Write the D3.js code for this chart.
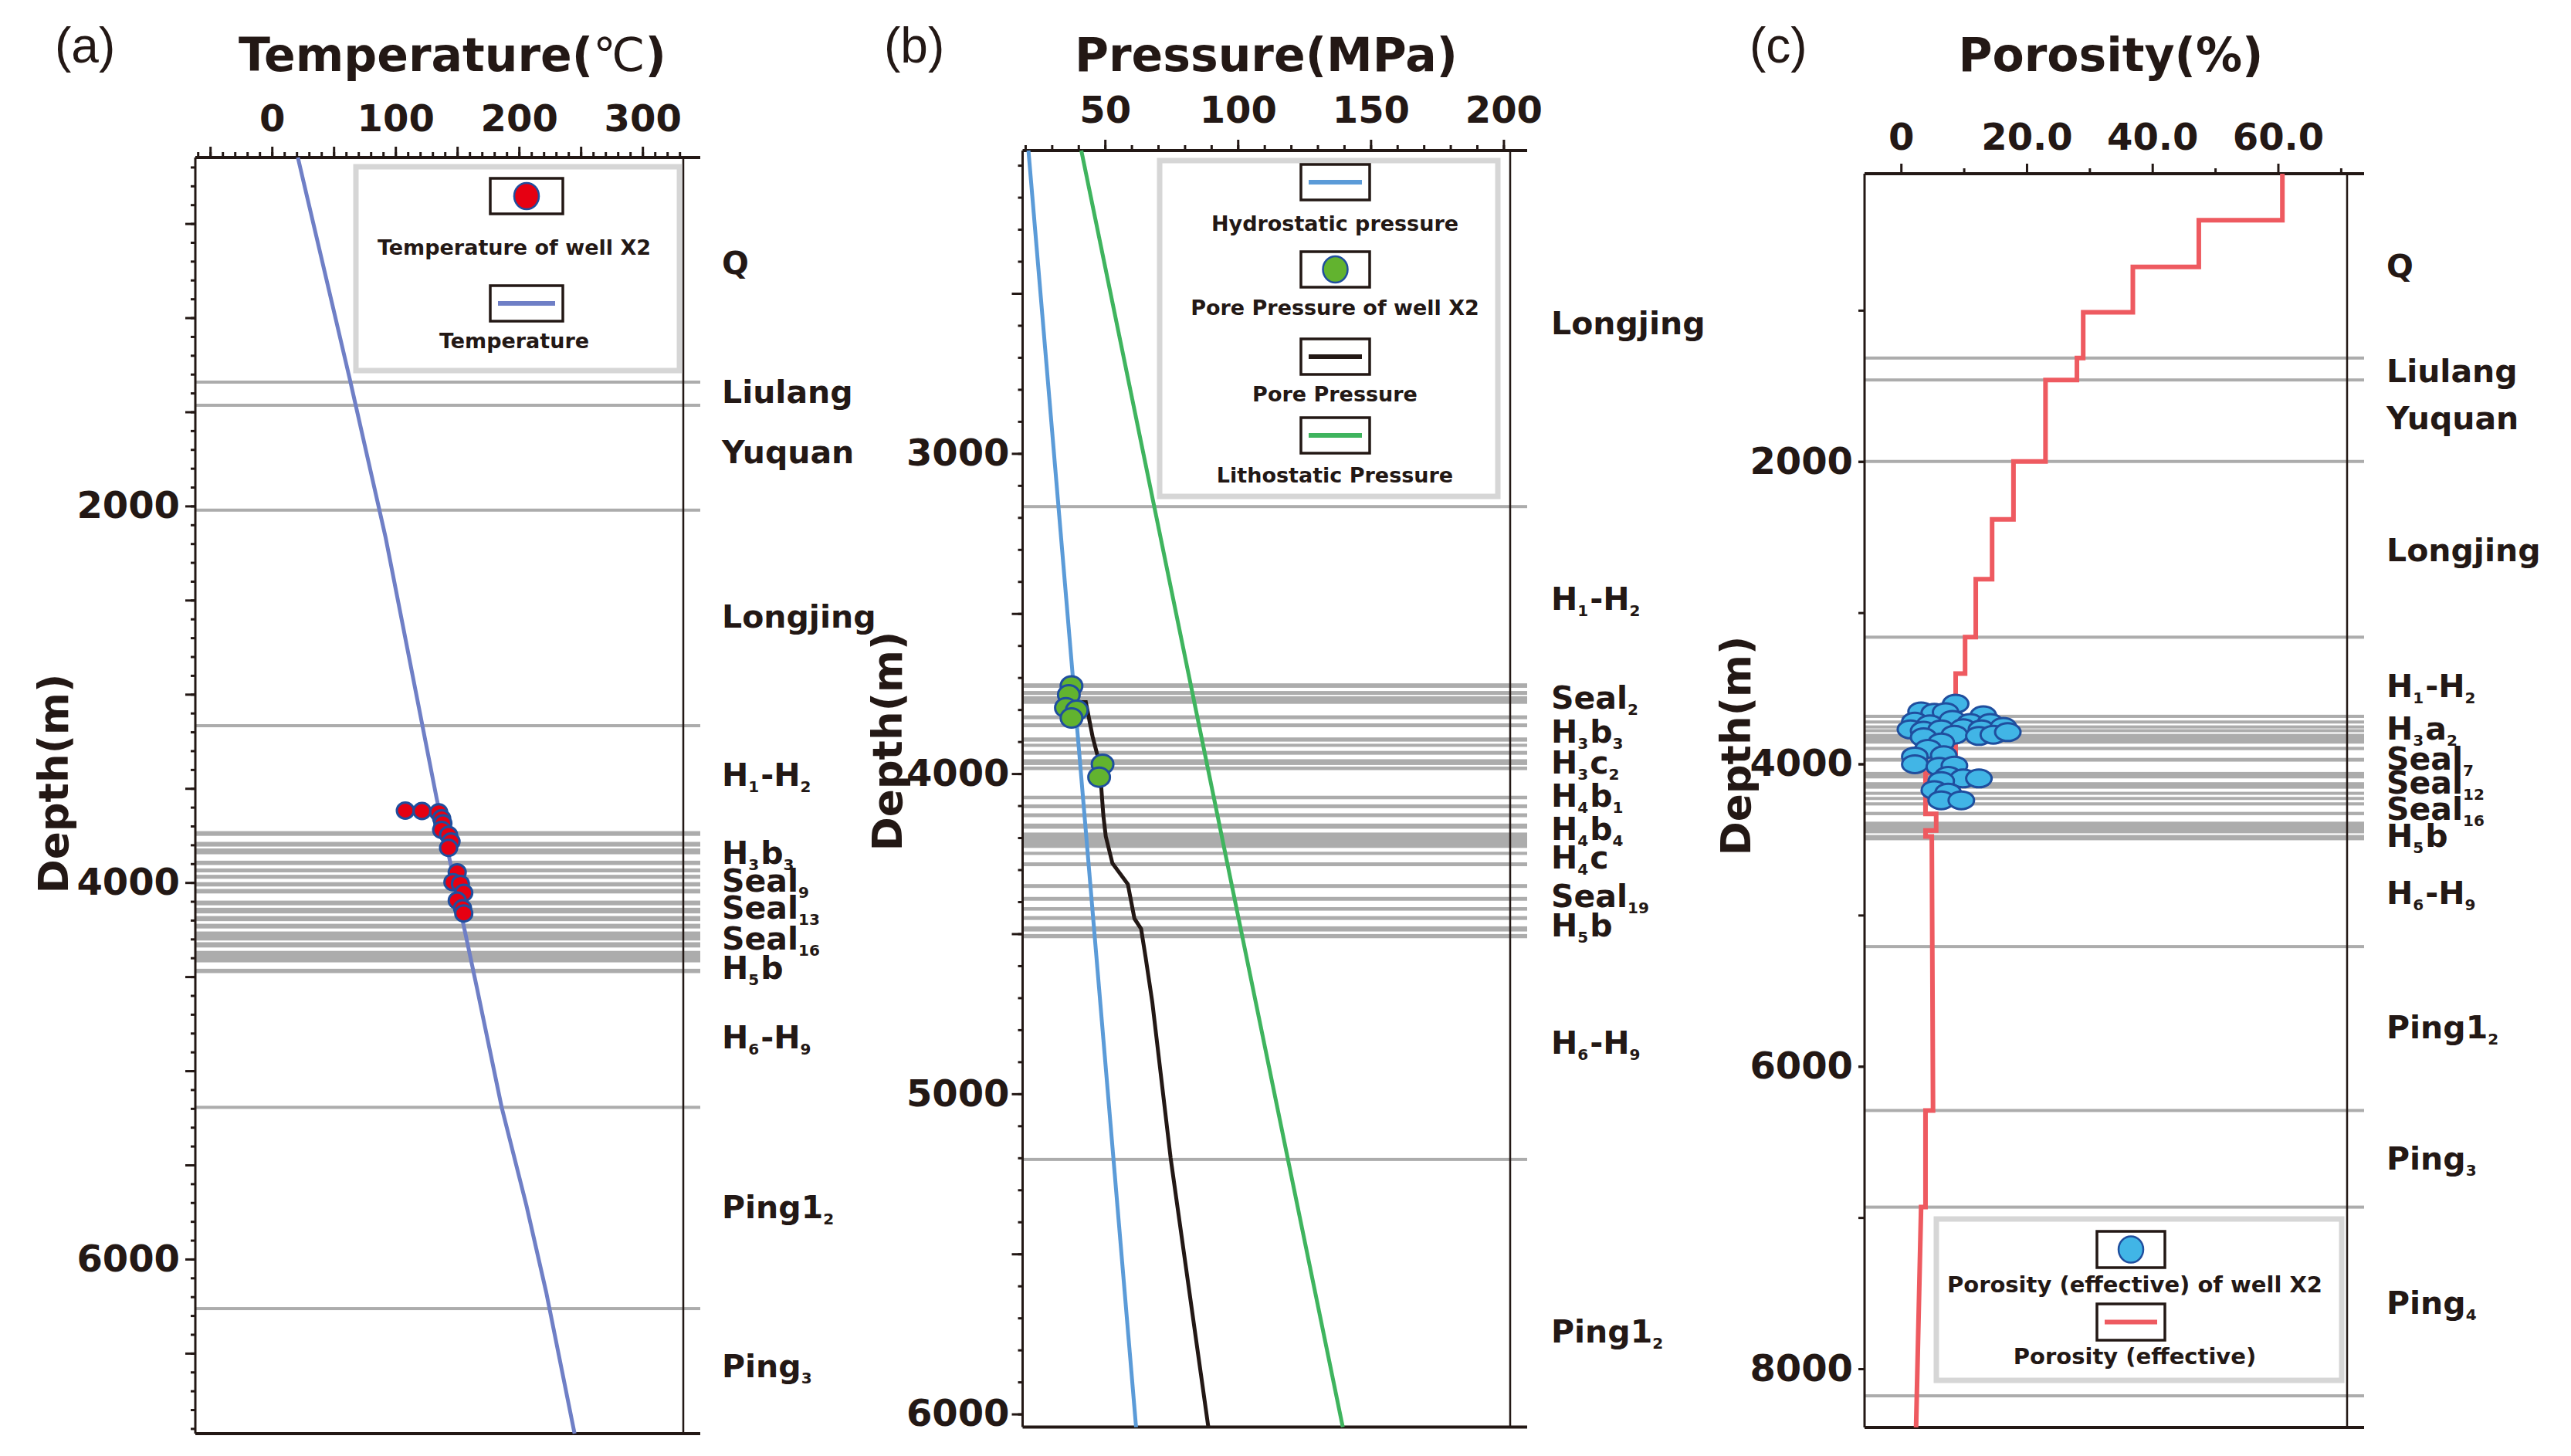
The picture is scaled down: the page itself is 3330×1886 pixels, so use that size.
<!DOCTYPE html>
<html>
<head>
<meta charset="utf-8">
<script src="https://cdn.jsdelivr.net/npm/d3@7"></script>
<style>
  body { margin: 0; background: #fff; }
  svg { display: block; font-family: 'DejaVu Sans', sans-serif; font-weight: bold; }
</style>
</head>
<body>
<svg id="chart" width="3330" height="1886"></svg>
<script>
// ---- (a) temperature, [°C, depth m] ----
const tempTickLabels = [0, 100, 200, 300]
const tempProfile = [[21, 149], [63, 1325], [92, 2166], [133.5, 3558], [166, 4561], [186, 5194], [206, 5715], [222, 6175], [245, 6927]]
const tempWellX2 = [[108, 3618], [121.5, 3620], [135, 3627], [137.4, 3659], [138.4, 3686], [137.4, 3720], [143, 3747], [145, 3782],
  [143, 3816], [150, 3946], [146.5, 3998], [152.6, 4007], [155.3, 4055], [150, 4096], [154.3, 4137], [155.3, 4164]]
const tempLines = [1342, 1465, 2022, 3167, 5194, 6263]
const tempBands = [[3727, 3752], [3784, 3809], [3819, 3850], [3884, 3907], [3925, 3946], [3959, 3980], [3998, 4021], [4034, 4058],
  [4096, 4121], [4134, 4164], [4178, 4205], [4219, 4244], [4260, 4308], [4317, 4345], [4363, 4424], [4458, 4481]]
const tempFormations = [['Q', 768], ['Liulang', 1453], ['Yuquan', 1772], ['Longjing', 2646], ['H{1}-H{2}', 3486], ['H{3}b{3}', 3900],
  ['Seal{9}', 4048], ['Seal{13}', 4192], ['Seal{16}', 4356], ['H{5}b', 4511], ['H{6}-H{9}', 4880], ['Ping1{2}', 5782], ['Ping{3}', 6627]]

// ---- (b) pressure, [MPa, depth m] ----
const presTickLabels = [50, 100, 150, 200]
const hydrostatic = [[21.2, 2054], [61.7, 6041]]
const lithostatic = [[41.1, 2054], [139.5, 6041]]
const porePressure = [[40.3, 3777], [42.8, 3777], [45.3, 3883], [47.8, 3963], [48.6, 4043], [49.4, 4132], [50.3, 4196], [52.8, 4280],
  [58.6, 4345], [61.1, 4453], [63.6, 4485], [65.3, 4574], [67.8, 4713], [74.7, 5200], [88.9, 6041]]
const poreWellX2 = [[37.4, 3726], [36.4, 3754], [35.3, 3794], [39.4, 3802], [37.4, 3826], [49.1, 3971], [47.8, 4011]]
const presLines = [3166, 5205]
const presBands = [[3718, 3732], [3742, 3754], [3758, 3782], [3818, 3830], [3843, 3855], [3887, 3900], [3907, 3916], [3929, 3941],
  [3955, 3973], [3978, 3989], [4069, 4080], [4096, 4108], [4124, 4136], [4156, 4172], [4184, 4232], [4244, 4254], [4277, 4289],
  [4345, 4357], [4385, 4397], [4417, 4428], [4445, 4457], [4477, 4493], [4501, 4514]]
const presFormations = [['Longjing', 2628], ['H{1}-H{2}', 3489], ['Seal{2}', 3797], ['H{3}b{3}', 3904], ['H{3}c{2}', 4000],
  ['H{4}b{1}', 4104], ['H{4}b{4}', 4207], ['H{4}c', 4296], ['Seal{19}', 4417], ['H{5}b', 4509], ['H{6}-H{9}', 4875], ['Ping1{2}', 5777]]

// ---- (c) porosity, [%, depth m] ----
const poroTickLabels = [0, 20, 40, 60]
const porosityProfile = [[60.7, 97], [60.7, 405], [47.4, 405], [47.4, 713], [36.9, 713], [36.9, 1014], [29.0, 1014], [29.0, 1316],
  [28.0, 1316], [28.0, 1461], [23.0, 1461], [23.0, 2000], [17.9, 2000], [17.9, 2383], [14.5, 2383], [14.5, 2778], [11.9, 2778],
  [11.9, 3162], [10.2, 3162], [10.2, 3403], [8.7, 3403], [8.7, 4060], [3.9, 4060], [3.9, 4330], [5.6, 4330], [5.6, 4440],
  [3.9, 4440], [3.9, 4480], [4.9, 4480], [5.1, 6292], [3.9, 6292], [3.9, 6931], [3.2, 6931], [2.4, 8388]]
const poroWellX2 = [[8.7, 3602], [3.2, 3653], [5.3, 3662], [7.1, 3658], [13.1, 3679], [2.2, 3721], [4.6, 3738], [8.2, 3709],
  [11.0, 3730], [14.2, 3730], [1.5, 3772], [3.6, 3781], [6.4, 3772], [9.9, 3764], [12.8, 3772], [16.3, 3755], [3.6, 3824],
  [8.5, 3807], [12.4, 3815], [14.7, 3807], [17.0, 3790], [6.4, 3858], [4.3, 3900], [2.2, 3951], [6.8, 3943], [2.2, 4002],
  [6.1, 4019], [8.5, 4011], [7.5, 4079], [9.9, 4096], [12.4, 4096], [6.4, 4113], [5.3, 4173], [7.5, 4190], [6.4, 4241], [9.6, 4241]]
const poroLines = [1316, 1461, 2000, 3162, 5208, 6292, 6931, 8179]
const poroBands = [[3675, 3696], [3713, 3733], [3747, 3764], [3772, 3789], [3801, 3866], [3887, 3909], [3960, 3985], [4053, 4096],
  [4121, 4164], [4186, 4203], [4220, 4237], [4254, 4275], [4317, 4339], [4382, 4459], [4470, 4505]]
const poroFormations = [['Q', 779], ['Liulang', 1476], ['Yuquan', 1785], ['Longjing', 2659], ['H{1}-H{2}', 3558], ['H{3}a{2}', 3839],
  ['Seal{7}', 4038], ['Seal{12}', 4196], ['Seal{16}', 4370], ['H{5}b', 4549], ['H{6}-H{9}', 4927], ['Ping1{2}', 5816],
  ['Ping{3}', 6684], ['Ping{4}', 7639]]

const ink = '#231815'
const gray = '#acacac'
const dotStroke = '#1f4e9e'
const svg = d3.select('#chart')

svg.append('rect').attr('width', 3330).attr('height', 1886).attr('fill', '#fff')

// "H{3}b{3}" -> tspans with subscripts
function addRich (text, str, subSize, subDy) {
  str.split(/(\{[^}]*\})/).filter(s => s.length).forEach(s => {
    if (s[0] === '{') {
      text.append('tspan').attr('font-size', subSize).attr('dy', subDy).text(s.slice(1, -1))
      text.append('tspan').attr('font-size', subSize).attr('dy', -subDy).text('\u200a')
    } else {
      text.append('tspan').text(s)
    }
  })
}

function styleAxis (sel, fontSize) {
  sel.select('.domain').remove()
  sel.selectAll('line').attr('stroke', ink).attr('stroke-width', 3)
  sel.selectAll('text').attr('fill', ink).attr('font-size', fontSize)
    .attr('font-family', "'DejaVu Sans', sans-serif").attr('font-weight', 'bold')
}

function drawPanel (p) {
  const x = d3.scaleLinear().domain(p.xDomain).range([p.left, p.right])
  const y = d3.scaleLinear().domain(p.yDomain).range([p.top, p.bottom])
  const g = svg.append('g')
  const ext = p.right + 22

  // formation boundaries (single lines and stacked bands)
  const bounds = p.lines.map(d => [d, d]).concat(p.bands)
  g.selectAll('rect.bound').data(bounds).join('rect')
    .attr('class', 'bound')
    .attr('x', p.left)
    .attr('width', ext - p.left)
    .attr('y', d => {
      const h = Math.max(4, y(d[1]) - y(d[0]))
      return (y(d[0]) + y(d[1])) / 2 - h / 2
    })
    .attr('height', d => Math.max(4, y(d[1]) - y(d[0])))
    .attr('fill', gray)

  // frame
  g.append('line').attr('x1', p.right).attr('x2', p.right).attr('y1', p.top).attr('y2', p.bottom)
    .attr('stroke', ink).attr('stroke-width', 2.5)
  g.append('line').attr('x1', p.left).attr('x2', p.left).attr('y1', p.top).attr('y2', p.bottom)
    .attr('stroke', ink).attr('stroke-width', 3)
  g.append('line').attr('x1', p.left).attr('x2', ext).attr('y1', p.top).attr('y2', p.top)
    .attr('stroke', ink).attr('stroke-width', 4)
  g.append('line').attr('x1', p.left).attr('x2', ext).attr('y1', p.bottom).attr('y2', p.bottom)
    .attr('stroke', ink).attr('stroke-width', 4)

  // top axis
  g.append('g').attr('transform', `translate(0,${p.top})`)
    .call(d3.axisTop(x).tickValues(p.xMinor).tickSize(7).tickFormat(() => ''))
    .call(s => styleAxis(s, 48))
  g.append('g').attr('transform', `translate(0,${p.top})`)
    .call(d3.axisTop(x).tickValues(p.xMajor).tickSize(p.xMajorSize).tickPadding(p.xPad)
      .tickFormat(d => p.xLabels.includes(d) ? p.xFmt(d) : ''))
    .call(s => styleAxis(s, 48))

  // left axis
  g.append('g').attr('transform', `translate(${p.left},0)`)
    .call(d3.axisLeft(y).tickValues(p.yMinor).tickSize(p.yMinorSize).tickFormat(() => ''))
    .call(s => styleAxis(s, 48))
  g.append('g').attr('transform', `translate(${p.left},0)`)
    .call(d3.axisLeft(y).tickValues(p.yMajor).tickSize(p.yMajorSize).tickPadding(p.yPad)
      .tickFormat(d => p.yLabels.includes(d) ? d : ''))
    .call(s => styleAxis(s, 48))

  // curves
  const line = d3.line().x(d => x(d[0])).y(d => y(d[1]))
  p.curves.forEach(c => {
    g.append('path').datum(c.data).attr('d', line)
      .attr('fill', 'none').attr('stroke', c.color).attr('stroke-width', c.width)
      .attr('stroke-linejoin', 'miter')
  })

  // well X2 measurements
  g.selectAll('ellipse.pt').data(p.dots.data).join('ellipse')
    .attr('class', 'pt')
    .attr('cx', d => x(d[0])).attr('cy', d => y(d[1]))
    .attr('rx', p.dots.rx).attr('ry', p.dots.ry)
    .attr('fill', p.dots.color).attr('stroke', dotStroke).attr('stroke-width', 3)

  // formation names
  p.formations.forEach(f => {
    const t = g.append('text').attr('x', p.labelX).attr('y', y(f[1]))
      .attr('font-size', 41).attr('fill', ink)
    addRich(t, f[0], 20, 8)
  })

  // titles
  const title = g.append('text').attr('x', p.titleX).attr('y', 92).attr('text-anchor', 'middle')
    .attr('font-size', 60).attr('fill', ink)
  title.append('tspan').text(p.title)
  if (p.titleUnit) {
    title.append('tspan').attr('font-weight', 'normal').text(p.titleUnit)
    title.append('tspan').text(')')
  }
  g.append('text').attr('x', p.letterX).attr('y', 81)
    .attr('font-family', "'Liberation Sans', sans-serif").attr('font-weight', 'normal')
    .attr('font-size', 64).attr('fill', ink).text(p.letter)
  g.append('text')
    .attr('transform', `translate(${p.yTitle[0]},${p.yTitle[1]}) rotate(-90)`)
    .attr('text-anchor', 'middle').attr('dominant-baseline', 'central')
    .attr('font-size', 53).attr('fill', ink).text('Depth(m)')

  // legend
  const L = p.legend
  g.append('rect').attr('x', L.x).attr('y', L.y).attr('width', L.w).attr('height', L.h)
    .attr('fill', '#fff').attr('stroke', '#d6d6d6').attr('stroke-width', 7)
  L.items.forEach(it => {
    g.append('rect').attr('x', L.sx).attr('y', it.y).attr('width', L.sw).attr('height', L.sh)
      .attr('fill', '#fff').attr('stroke', ink).attr('stroke-width', 3.5)
    const cx = L.sx + L.sw / 2
    const cy = it.y + L.sh / 2
    if (it.type === 'dot') {
      g.append('ellipse').attr('cx', cx).attr('cy', cy).attr('rx', 16).attr('ry', 17)
        .attr('fill', it.color).attr('stroke', dotStroke).attr('stroke-width', 2.5)
    } else {
      g.append('line').attr('x1', L.sx + 10).attr('x2', L.sx + L.sw - 10).attr('y1', cy).attr('y2', cy)
        .attr('stroke', it.color).attr('stroke-width', 6)
    }
    g.append('text').attr('x', L.tx).attr('y', it.ty).attr('text-anchor', 'middle')
      .attr('font-size', L.fs).attr('fill', ink).text(it.label)
  })
}

const tempColor = '#6f7fc6'
const hydroColor = '#5b9bd8'
const lithoColor = '#3fb45e'
const poroColor = '#ee5a60'

drawPanel({
  left: 253, right: 885, top: 204, bottom: 1857,
  xDomain: [-62, 333], yDomain: [149, 6927],
  xMinor: d3.range(-60, 331, 10), xMajor: d3.range(-50, 301, 50), xMajorSize: 14, xPad: 20,
  xLabels: tempTickLabels, xFmt: d => d,
  yMinor: d3.range(200, 6901, 100), yMinorSize: 6, yMajor: d3.range(500, 6501, 500), yMajorSize: 13, yPad: 7,
  yLabels: [2000, 4000, 6000],
  lines: tempLines, bands: tempBands,
  curves: [{ data: tempProfile, color: tempColor, width: 5 }],
  dots: { data: tempWellX2, color: '#e60012', rx: 11, ry: 10.5 },
  formations: tempFormations, labelX: 935,
  title: 'Temperature(', titleUnit: '\u2103', titleX: 586,
  letter: '(a)', letterX: 71, yTitle: [69, 1015],
  legend: {
    x: 461, y: 216, w: 419, h: 264, sx: 635, sw: 94, sh: 46, tx: 666, fs: 27,
    items: [
      { type: 'dot', color: '#e60012', y: 231, ty: 330, label: 'Temperature of well X2' },
      { type: 'line', color: tempColor, y: 370, ty: 451, label: 'Temperature' }
    ]
  }
})

drawPanel({
  left: 1324.5, right: 1956, top: 195, bottom: 1848.6,
  xDomain: [19, 202.5], yDomain: [2054, 6041],
  xMinor: d3.range(20, 201, 10), xMajor: [50, 100, 150, 200], xMajorSize: 14, xPad: 22,
  xLabels: presTickLabels, xFmt: d => d,
  yMinor: d3.range(2100, 6001, 100), yMinorSize: 6, yMajor: d3.range(2500, 6001, 500), yMajorSize: 14, yPad: 3,
  yLabels: [3000, 4000, 5000, 6000],
  lines: presLines, bands: presBands,
  curves: [
    { data: hydrostatic, color: hydroColor, width: 5 },
    { data: lithostatic, color: lithoColor, width: 5 },
    { data: porePressure, color: ink, width: 5 }
  ],
  dots: { data: poreWellX2, color: '#62b32f', rx: 14, ry: 12.5 },
  formations: presFormations, labelX: 2009,
  title: 'Pressure(MPa)', titleX: 1640,
  letter: '(b)', letterX: 1145, yTitle: [1149, 960],
  legend: {
    x: 1502, y: 208, w: 438, h: 435, sx: 1685, sw: 89, sh: 46, tx: 1729, fs: 27,
    items: [
      { type: 'line', color: hydroColor, y: 213, ty: 299, label: 'Hydrostatic pressure' },
      { type: 'dot', color: '#62b32f', y: 326, ty: 408, label: 'Pore Pressure of well X2' },
      { type: 'line', color: ink, y: 439, ty: 520, label: 'Pore Pressure' },
      { type: 'line', color: lithoColor, y: 541, ty: 625, label: 'Lithostatic Pressure' }
    ]
  }
})

drawPanel({
  left: 2415, right: 3040, top: 225, bottom: 1849,
  xDomain: [-5.8, 71], yDomain: [97, 8388],
  xMinor: [10, 30, 50, 70], xMajor: [0, 20, 40, 60], xMajorSize: 13, xPad: 18,
  xLabels: poroTickLabels, xFmt: d => d === 0 ? '0' : d.toFixed(1),
  yMinor: d3.range(1000, 8001, 1000), yMinorSize: 8, yMajor: [2000, 4000, 6000, 8000], yMajorSize: 8, yPad: 7,
  yLabels: [2000, 4000, 6000, 8000],
  lines: poroLines, bands: poroBands,
  curves: [{ data: porosityProfile, color: poroColor, width: 6 }],
  dots: { data: poroWellX2, color: '#41b5e6', rx: 16.5, ry: 11.5 },
  formations: poroFormations, labelX: 3091,
  title: 'Porosity(%)', titleX: 2734,
  letter: '(c)', letterX: 2266, yTitle: [2248, 966],
  legend: {
    x: 2508, y: 1579, w: 525, h: 209, sx: 2716, sw: 88, sh: 47, tx: 2765, fs: 29,
    items: [
      { type: 'dot', color: '#41b5e6', y: 1595, ty: 1674, label: 'Porosity (effective) of well X2' },
      { type: 'line', color: poroColor, y: 1689, ty: 1767, label: 'Porosity (effective)' }
    ]
  }
})
</script>
</body>
</html>
